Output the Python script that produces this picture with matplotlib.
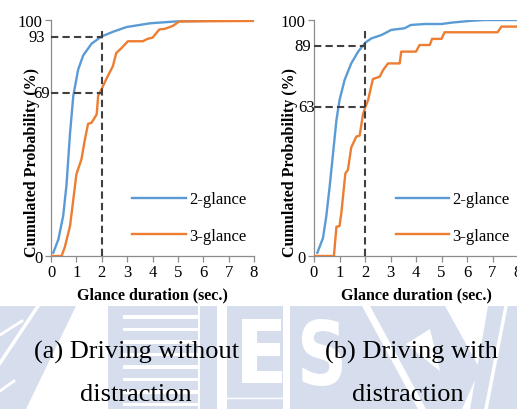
import matplotlib; matplotlib.use('Agg')
import matplotlib.pyplot as plt
from matplotlib.patches import Polygon, Rectangle, PathPatch
from matplotlib.textpath import TextPath
from matplotlib.font_manager import FontProperties
from matplotlib.transforms import Affine2D
import numpy as np

plt.rcParams['font.family'] = ['Liberation Serif', 'DejaVu Serif']

##############################################################################
# (a) driving without distraction
xa_2 = [0.09, 0.29, 0.48, 0.61, 0.75, 0.88, 1.07, 1.27, 1.6, 1.99, 2.44, 2.97, 3.9, 4.93, 8.0]
ya_2 = [1.4, 7, 17, 30, 52, 68, 79, 85, 90, 93, 95, 97, 98.6, 99.4, 100]
xa_3 = [0.0, 0.42, 0.55, 0.75, 0.88, 1.0, 1.2, 1.33, 1.46, 1.6, 1.8, 1.86, 1.99, 2.18, 2.44,
        2.57, 2.77, 3.03, 3.62, 3.8, 4.0, 4.27, 4.5, 4.8, 5.06, 8.0]
ya_3 = [0, 0, 4, 12.7, 24, 34.6, 41, 49, 56, 56.5, 60, 68, 70.6, 75, 80.5,
        86, 88, 91, 91, 92, 92.5, 96, 96.3, 97.5, 99.4, 99.6]
marks_a = [93, 69]

# (b) driving with distraction
xb_2 = [0.13, 0.35, 0.48, 0.61, 0.75, 0.88, 1.0, 1.2, 1.46, 1.73, 2.01, 2.25, 2.64, 3.03,
        3.55, 3.8, 4.34, 5.0, 5.4, 6.2, 6.7, 8.0]
yb_2 = [1.4, 7.5, 16.7, 29, 43.8, 57.6, 66, 74.6, 81.6, 86.6, 90.4, 92.2, 93.6, 95.8,
        96.5, 97.9, 98.3, 98.3, 98.9, 99.7, 100, 100]
xb_3 = [0.0, 0.78, 0.88, 1.0, 1.07, 1.23, 1.33, 1.46, 1.66, 1.79, 1.92, 2.01, 2.12, 2.31,
        2.58, 2.71, 2.9, 3.36, 3.42, 4.0, 4.14, 4.54, 4.63, 5.0, 5.12, 7.2, 7.35, 8.0]
yb_3 = [0, 0, 12.4, 12.7, 18, 35, 36.5, 46, 50.6, 51, 60, 63, 66, 75,
        76, 78.8, 81.6, 81.6, 86.6, 86.6, 89.4, 89.4, 92, 92, 94.8, 94.8, 97.2, 97.2]
marks_b = [89, 63]

x_ticks = [0, 1, 2, 3, 4, 5, 6, 7, 8]
x_mark = 2
captions = [('(a) Driving without', 'distraction'), ('(b) Driving with', 'distraction')]
##############################################################################

W, H = 517, 410
fig = plt.figure(figsize=(W/100., H/100.), dpi=100)

# faint watermark behind the captions (pixel coords, y down)
bg = fig.add_axes([0, 0, 1, 1], zorder=-1)
bg.set_xlim(0, W); bg.set_ylim(H, 0); bg.axis('off')
wm = '#d6deee'

def letter(ch, x0, x1, y0, y1):
    tp = TextPath((0, 0), ch, size=100, prop=FontProperties(family='DejaVu Sans', weight='bold'))
    bb = tp.get_extents()
    tr = (Affine2D().translate(-bb.x0, -bb.y1)
          .scale((x1 - x0)/bb.width, -(y1 - y0)/bb.height).translate(x0, y0))
    bg.add_patch(PathPatch(tr.transform_path(tp), color='white', lw=0))

bg.add_patch(Polygon([(0, 307), (76, 307), (26, 410), (0, 410)], color=wm, lw=0))
bg.plot([38, 0], [307, 364], color='white', lw=2.5)
bg.plot([0, 22], [336, 322], color='white', lw=2)
bg.plot([0, 14], [392, 382], color='white', lw=2)
bg.add_patch(Rectangle((108, 307), 15, 103, color=wm, lw=0))
for k in range(9):
    bg.add_patch(Rectangle((123, 307 + k*12.5), 75, 9, color=wm, lw=0))
bg.add_patch(Rectangle((200, 307), 17, 103, color=wm, lw=0))
bg.add_patch(Rectangle((227, 307), 56, 103, color=wm, lw=0))
bg.add_patch(Rectangle((290, 307), 60, 103, color=wm, lw=0))
letter('E', 242, 282, 320, 384)
letter('S', 302, 342, 320, 387)
bg.plot([227, 283], [399, 399], color='white', lw=1)
bg.add_patch(Polygon([(350, 307), (362, 307), (418, 410), (350, 410)], color=wm, lw=0))
bg.add_patch(Polygon([(370, 307), (445, 307), (480, 370), (462, 410), (426, 410)],
                     color=wm, lw=0))
bg.add_patch(Polygon([(406, 345), (430, 330), (440, 372)], color='white', lw=0))
bg.add_patch(Polygon([(488, 307), (517, 307), (517, 410), (470, 410)], color=wm, lw=0))
bg.plot([506, 486], [307, 410], color='white', lw=2.5)

panels = [
    ([51/517., 153/410., 203/517., 236/410.], xa_2, ya_2, xa_3, ya_3, marks_a,
     [-0.03, -0.005], -0.094),
    ([314/517., 153/410., 204/517., 236/410.], xb_2, yb_2, xb_3, yb_3, marks_b,
     [-0.015, 0.006], -0.118),
]

for rect, x2, y2, x3, y3, marks, offs, ylab_x in panels:
    ax = fig.add_axes(rect)
    ax.set_facecolor('none')
    for s in ['top', 'right']:
        ax.spines[s].set_visible(False)
    for s in ['left', 'bottom']:
        ax.spines[s].set_color('#8c8c8c')
        ax.spines[s].set_linewidth(0.9)

    ax.plot(x2, y2, color='#5b9bd5', lw=1.7, label='2-glance', zorder=3)
    ax.plot(x3, y3, color='#ed7d31', lw=1.7, label='3-glance', zorder=3)

    # reading lines at 2 s
    ax.plot([x_mark, x_mark], [0, 96], color='#404040', lw=1.5, ls=(0, (3.5, 2)), zorder=4)
    for m, o in zip(marks, offs):
        ax.plot([0, x_mark], [m, m], color='#404040', lw=1.5, ls=(0, (3.5, 2)), zorder=4)
        ax.text(o, m, str(m), ha='right', va='center', fontsize=12,
                transform=ax.get_yaxis_transform())

    ax.set_xlim(0, 8)
    ax.set_ylim(0, 100)
    ax.set_xticks(x_ticks)
    ax.set_yticks([0, 100])
    ax.tick_params(axis='both', direction='out', length=4, width=0.9, color='#8c8c8c',
                   labelsize=12, pad=2)

    ax.set_xlabel('Glance duration (sec.)', fontsize=11.5, fontweight='bold')
    ax.xaxis.set_label_coords(0.5, -0.163)
    ax.xaxis.label.set_verticalalignment('center')
    ax.set_ylabel('Cumulated Probability (%)', fontsize=11.5, fontweight='bold')
    ax.yaxis.set_label_coords(ylab_x, 0.40)
    ax.yaxis.label.set_verticalalignment('center')

    ax.legend(loc='lower left', bbox_to_anchor=(0.40, 0.05), frameon=False, fontsize=12,
              handlelength=3.2, handletextpad=0.2, labelspacing=1.25,
              borderpad=0, borderaxespad=0)

for (l1, l2), xc1, xc2 in zip(captions, [137, 411], [136, 408]):
    fig.text(xc1/W, 1 - 352/H, l1, fontsize=19, ha='center', va='center')
    fig.text(xc2/W, 1 - 395/H, l2, fontsize=19, ha='center', va='center')

fig.savefig('out.png', dpi=100)
